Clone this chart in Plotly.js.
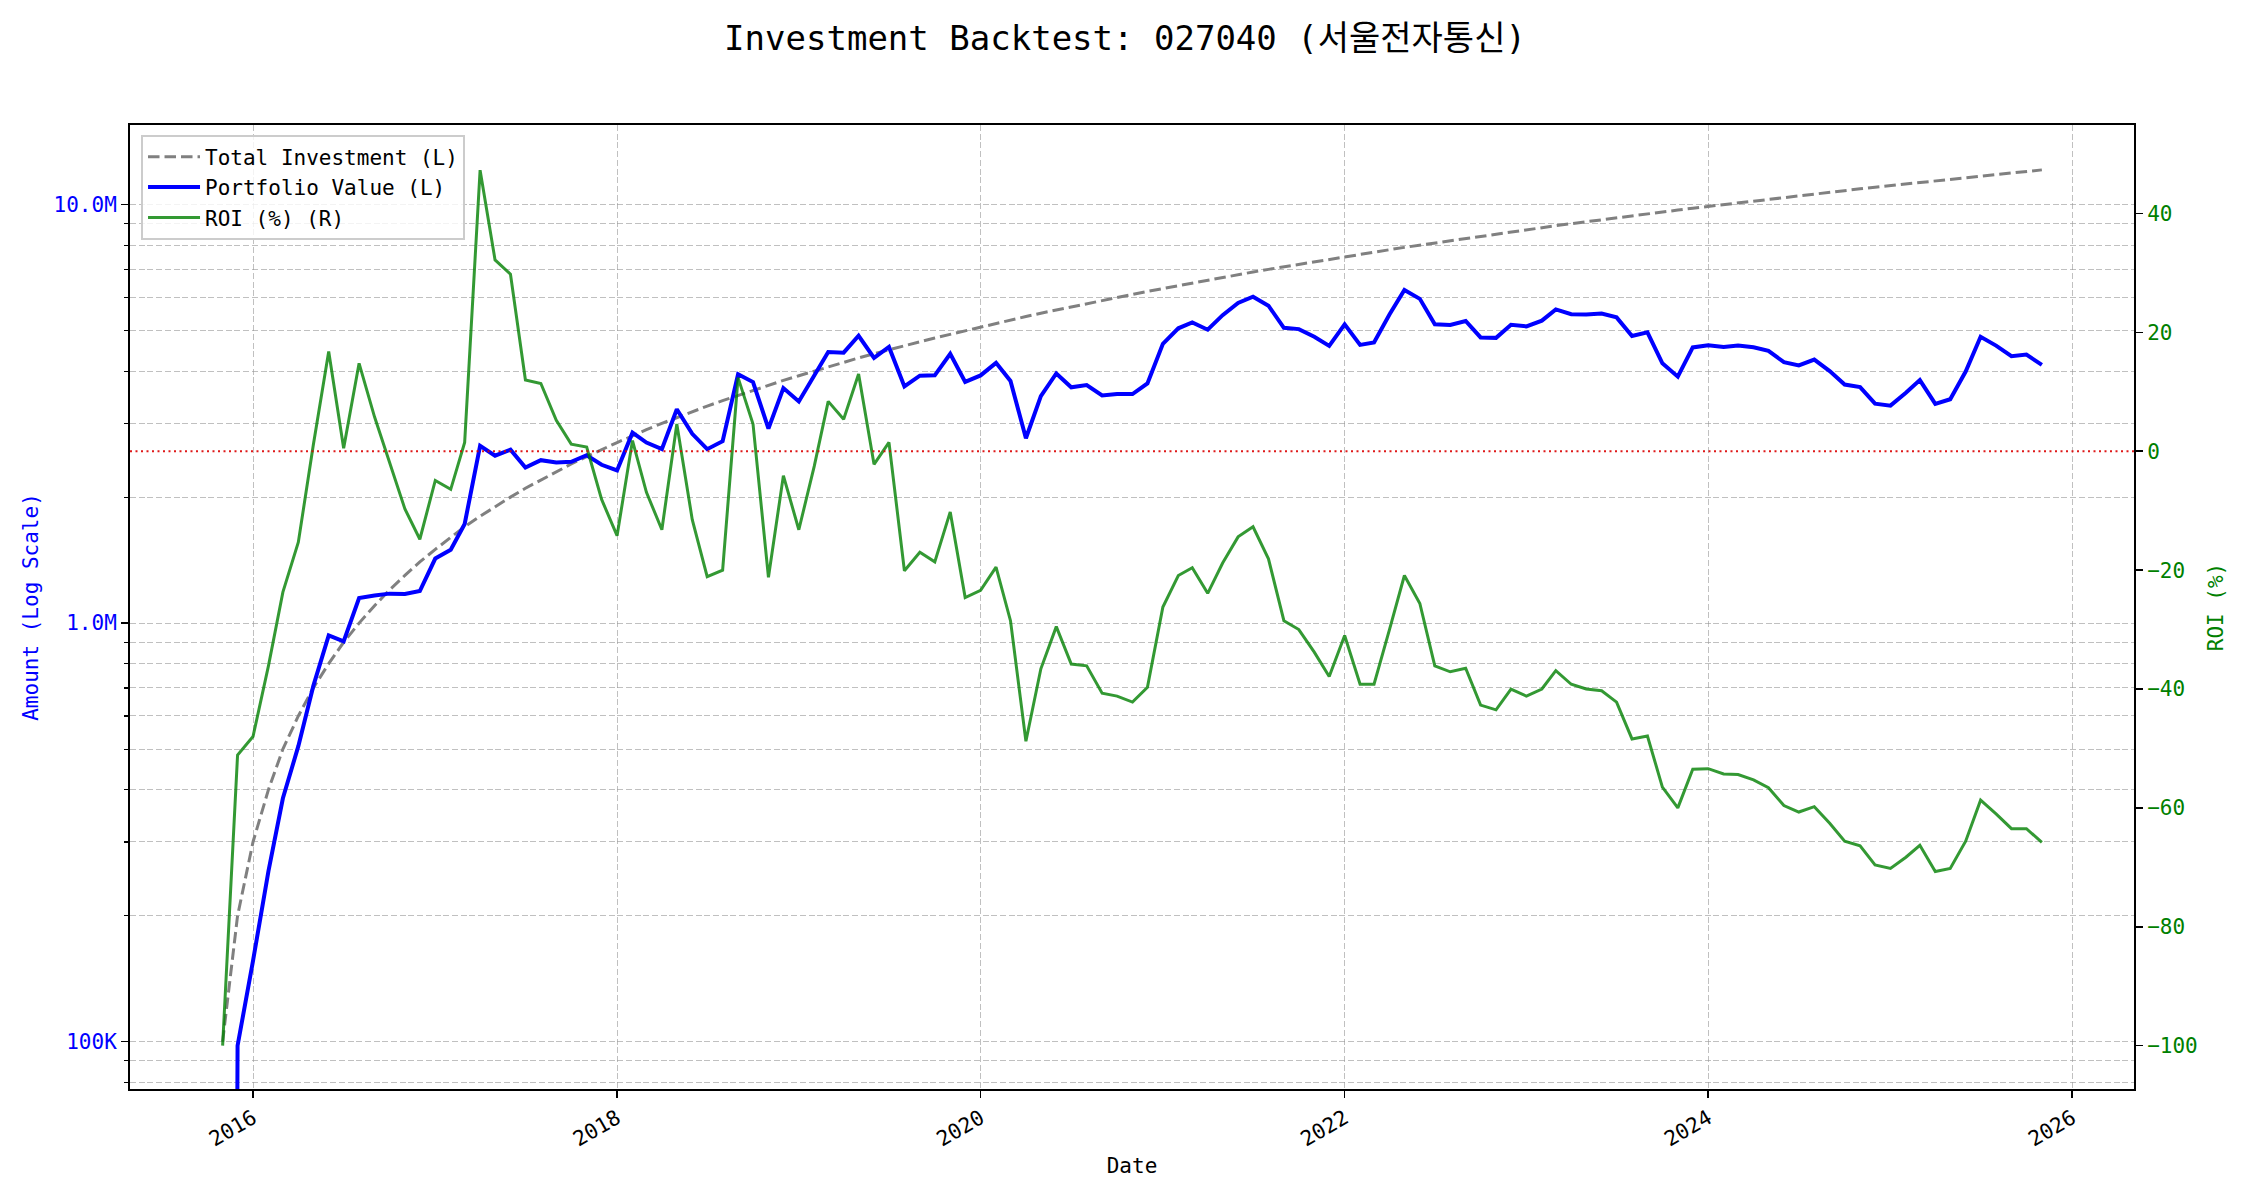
<!DOCTYPE html>
<html>
<head>
<meta charset="utf-8">
<script src="https://cdn.plot.ly/plotly-3.0.1.min.js"></script>
<style>html,body{margin:0;padding:0;background:#fff;}#chart{width:2250px;height:1200px;}</style>
</head>
<body>
<div id="chart"></div>
<script>
const dates = [
"2015-11","2015-12",
"2016-01","2016-02","2016-03","2016-04","2016-05","2016-06","2016-07","2016-08","2016-09","2016-10","2016-11","2016-12",
"2017-01","2017-02","2017-03","2017-04","2017-05","2017-06","2017-07","2017-08","2017-09","2017-10","2017-11","2017-12",
"2018-01","2018-02","2018-03","2018-04","2018-05","2018-06","2018-07","2018-08","2018-09","2018-10","2018-11","2018-12",
"2019-01","2019-02","2019-03","2019-04","2019-05","2019-06","2019-07","2019-08","2019-09","2019-10","2019-11","2019-12",
"2020-01","2020-02","2020-03","2020-04","2020-05","2020-06","2020-07","2020-08","2020-09","2020-10","2020-11","2020-12",
"2021-01","2021-02","2021-03","2021-04","2021-05","2021-06","2021-07","2021-08","2021-09","2021-10","2021-11","2021-12",
"2022-01","2022-02","2022-03","2022-04","2022-05","2022-06","2022-07","2022-08","2022-09","2022-10","2022-11","2022-12",
"2023-01","2023-02","2023-03","2023-04","2023-05","2023-06","2023-07","2023-08","2023-09","2023-10","2023-11","2023-12",
"2024-01","2024-02","2024-03","2024-04","2024-05","2024-06","2024-07","2024-08","2024-09","2024-10","2024-11","2024-12",
"2025-01","2025-02","2025-03","2025-04","2025-05","2025-06","2025-07","2025-08","2025-09","2025-10","2025-11"
];

const totalInvestment = [
100000,200000,300000,400000,500000,600000,700000,800000,900000,1000000,
1100000,1200000,1300000,1400000,1500000,1600000,1700000,1800000,1900000,2000000,
2100000,2200000,2300000,2400000,2500000,2600000,2700000,2800000,2900000,3000000,
3100000,3200000,3300000,3400000,3500000,3600000,3700000,3800000,3900000,4000000,
4100000,4200000,4300000,4400000,4500000,4600000,4700000,4800000,4900000,5000000,
5100000,5200000,5300000,5400000,5500000,5600000,5700000,5800000,5900000,6000000,
6100000,6200000,6300000,6400000,6500000,6600000,6700000,6800000,6900000,7000000,
7100000,7200000,7300000,7400000,7500000,7600000,7700000,7800000,7900000,8000000,
8100000,8200000,8300000,8400000,8500000,8600000,8700000,8800000,8900000,9000000,
9100000,9200000,9300000,9400000,9500000,9600000,9700000,9800000,9900000,10000000,
10100000,10200000,10300000,10400000,10500000,10600000,10700000,10800000,10900000,11000000,
11100000,11200000,11300000,11400000,11500000,11600000,11700000,11800000,11900000,12000000,
12100000
];

const portfolioValue = [
0,97800,156000,255600,381500,508200,707000,934400,904500,1148000,
1163800,1176000,1173900,1192800,1426500,1497600,1725500,2651400,2511800,2596000,
2352000,2450800,2419600,2428800,2517500,2389400,2316600,2850400,2699900,2604000,
3242600,2832000,2603700,2720000,3934000,3765600,2915600,3644200,3385200,3900000,
4444400,4426800,4859000,4303200,4567500,3675400,3901000,3907200,4400200,3770000,
3906600,4186000,3789500,2764800,3487000,3948000,3659400,3706200,3498700,3528000,
3525800,3738600,4649400,5062400,5226000,5022600,5440400,5820800,6023700,5733000,
5076500,5040000,4832600,4595400,5175000,4620800,4681600,5460000,6248900,5952000,
5175900,5157800,5270500,4813200,4802500,5160000,5115600,5280000,5615900,5472000,
5460000,5492400,5375400,4850400,4949500,4176000,3880000,4557000,4613400,4570000,
4605600,4559400,4470200,4201600,4126500,4261200,4001800,3715200,3662400,3344000,
3307800,3550400,3808100,3340200,3427000,3990400,4832100,4602000,4343500,4380000,
4138200
];

const roiPct = [
-100,-51.1,-48.0,-36.1,-23.7,-15.3,1.0,16.8,0.5,14.8,
5.8,-2.0,-9.7,-14.8,-4.9,-6.4,1.5,47.3,32.2,29.8,
12.0,11.4,5.2,1.2,0.7,-8.1,-14.2,1.8,-6.9,-13.2,
4.6,-11.5,-21.1,-20.0,12.4,4.6,-21.2,-4.1,-13.2,-2.5,
8.4,5.4,13.0,-2.2,1.5,-20.1,-17.0,-18.6,-10.2,-24.6,
-23.4,-19.5,-28.5,-48.8,-36.6,-29.5,-35.8,-36.1,-40.7,-41.2,
-42.2,-39.7,-26.2,-20.9,-19.6,-23.9,-18.8,-14.4,-12.7,-18.1,
-28.5,-30.0,-33.8,-37.9,-31.0,-39.2,-39.2,-30.0,-20.9,-25.6,
-36.1,-37.1,-36.5,-42.7,-43.5,-40.0,-41.2,-40.0,-36.9,-39.2,
-40.0,-40.3,-42.2,-48.4,-47.9,-56.5,-60.0,-53.5,-53.4,-54.3,
-54.4,-55.3,-56.6,-59.6,-60.7,-59.8,-62.6,-65.6,-66.4,-69.6,
-70.2,-68.3,-66.3,-70.7,-70.2,-65.6,-58.7,-61.0,-63.5,-63.5,
-65.8
];

const leftTickVals = [1e5, 1e6, 1e7];
const leftTickText = ["100K", "1.0M", "10.0M"];
const leftMinorVals = [8e4, 9e4, 2e5, 3e5, 4e5, 5e5, 6e5, 7e5, 8e5, 9e5, 2e6, 3e6, 4e6, 5e6, 6e6, 7e6, 8e6, 9e6];
const rightTickVals = [-100, -80, -60, -40, -20, 0, 20, 40];
const breakEvenROI = 0;

// log axis: non-positive values are clipped to a tiny positive number (as matplotlib does)
const clipLog = v => (v > 0 ? v : 1e-3);

const FONT = "'DejaVu Sans Mono', 'Noto Sans CJK KR', monospace";
const gridColor = "rgba(150,150,150,0.6)";

const traces = [
  {
    x: dates, y: totalInvestment, type: "scatter", mode: "lines",
    name: "Total Investment (L)",
    line: {color: "#808080", width: 3, dash: "11.5px,5px"},
    xaxis: "x", yaxis: "y"
  },
  {
    x: dates, y: portfolioValue.map(clipLog), type: "scatter", mode: "lines",
    name: "Portfolio Value (L)",
    line: {color: "#0000ff", width: 4},
    xaxis: "x", yaxis: "y"
  },
  {
    x: dates, y: roiPct, type: "scatter", mode: "lines",
    name: "ROI (%) (R)",
    line: {color: "rgba(0,128,0,0.8)", width: 3},
    xaxis: "x", yaxis: "y2"
  }
];

const layout = {
  width: 2250, height: 1200,
  paper_bgcolor: "#ffffff", plot_bgcolor: "#ffffff",
  font: {family: FONT, size: 21, color: "#000"},
  margin: {l: 130, r: 116, t: 125, b: 111, autoexpand: false},
  title: {
    text: "Investment Backtest: 027040 (서울전자통신)",
    font: {family: FONT, size: 34, color: "#000"},
    x: 0.5, xanchor: "center", y: 1 - 38/1200, yref: "container", yanchor: "middle"
  },
  showlegend: true,
  legend: {
    x: 0.0055, y: 0.99, xanchor: "left", yanchor: "top",
    bgcolor: "rgba(255,255,255,0.8)", bordercolor: "#cccccc", borderwidth: 2,
    font: {family: FONT, size: 21, color: "#000"},
    itemwidth: 52,
    tracegroupgap: 0
  },
  xaxis: {
    type: "date",
    range: ["2015-04-29", "2026-05-05"],
    tick0: "2016-01-01", dtick: "M24", tickformat: "%Y",
    tickangle: -30,
    ticks: "outside", ticklen: 7, tickwidth: 1.6, tickcolor: "#000",
    tickfont: {family: FONT, size: 21, color: "#000"},
    showline: true, linecolor: "#000", linewidth: 2, mirror: true,
    showgrid: true, gridcolor: gridColor, gridwidth: 1, griddash: "6px,2.7px",
    zeroline: false,
    title: {text: "Date", font: {family: FONT, size: 21, color: "#000"}, standoff: 8},
    automargin: false
  },
  yaxis: {
    type: "log",
    range: [4.887, 7.190],
    tickmode: "array", tickvals: leftTickVals, ticktext: leftTickText,
    ticks: "outside", ticklen: 7, tickwidth: 1.6, tickcolor: "#000",
    tickfont: {family: FONT, size: 21, color: "#0000ff"},
    showline: true, linecolor: "#000", linewidth: 2, mirror: true,
    showgrid: true, gridcolor: gridColor, gridwidth: 1, griddash: "6px,2.7px",
    minor: {
      tickmode: "array", tickvals: leftMinorVals,
      ticks: "outside", ticklen: 4, tickwidth: 1.2, tickcolor: "#000",
      showgrid: true, gridcolor: gridColor, gridwidth: 1, griddash: "6px,2.7px"
    },
    zeroline: false,
    title: {text: "Amount (Log Scale)", font: {family: FONT, size: 21, color: "#0000ff"}, standoff: 9},
    automargin: false
  },
  yaxis2: {
    overlaying: "y", side: "right",
    range: [-107.3, 54.9],
    tickmode: "array", tickvals: rightTickVals,
    ticks: "outside", ticklen: 7, tickwidth: 1.6, tickcolor: "#000",
    tickfont: {family: FONT, size: 21, color: "#008000"},
    showline: true, linecolor: "#000", linewidth: 2,
    showgrid: false, zeroline: false,
    title: {text: "ROI (%)", font: {family: FONT, size: 21, color: "#008000"}, standoff: 12},
    automargin: false
  },
  shapes: [
    {
      type: "line", xref: "paper", x0: 0, x1: 1, yref: "y2", y0: breakEvenROI, y1: breakEvenROI,
      line: {color: "rgba(220,0,0,0.9)", width: 2, dash: "2px,3.5px"}, layer: "above"
    }
  ]
};

Plotly.newPlot("chart", traces, layout, {displayModeBar: false, staticPlot: true});
</script>
</body>
</html>
